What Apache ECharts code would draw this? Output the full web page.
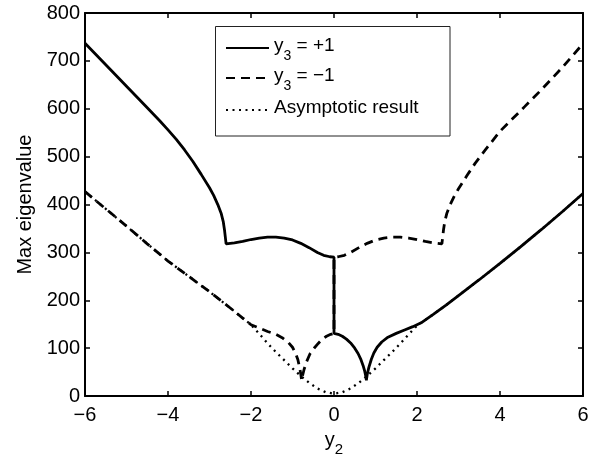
<!DOCTYPE html>
<html><head><meta charset="utf-8">
<script src="https://cdn.jsdelivr.net/npm/echarts@6/dist/echarts.min.js"></script>
<style>html,body{margin:0;padding:0;background:#fff}#c{width:595px;height:462px}</style>
</head><body><div id="c"></div>
<script>
// ---- data ----
const xTickValues = [-6, -4, -2, 0, 2, 4, 6];
const xTickLabels = ['\u22126', '\u22124', '\u22122', '0', '2', '4', '6'];
const seriesNames = ['y3 = +1', 'y3 = -1', 'Asymptotic result'];
const legendLabels = ['{n|y}{s|3}{n| = +1}', '{n|y}{s|3}{n| = \u22121}', '{n|Asymptotic result}'];

const solidPlus = [
  [-6, 737], [-5.5, 692], [-5, 647], [-4.5, 602], [-4.2, 575], [-4, 556],
  [-3.8, 536], [-3.6, 514], [-3.4, 490], [-3.2, 463], [-3.0, 435], [-2.9, 419],
  [-2.8, 400], [-2.72, 382], [-2.67, 365], [-2.64, 348], [-2.62, 333], [-2.6, 318],
  [-2.4, 320], [-2.2, 323], [-2.0, 327], [-1.8, 330], [-1.6, 332], [-1.4, 332],
  [-1.2, 330], [-1.0, 326], [-0.8, 319], [-0.6, 310], [-0.4, 300], [-0.25, 294],
  [-0.1, 291], [0, 290], [0, 131], [0.1, 129], [0.2, 125], [0.3, 119], [0.4, 111],
  [0.5, 100], [0.58, 89], [0.65, 76], [0.7, 64], [0.74, 52], [0.77, 40], [0.78, 33],
  [0.8, 45], [0.84, 60], [0.9, 77], [0.96, 90], [1.04, 102], [1.15, 113], [1.3, 123],
  [1.5, 131], [1.7, 138], [1.9, 145], [2.1, 153], [2.4, 171], [2.7, 190], [3, 210],
  [3.5, 243], [4, 277], [4.5, 312], [5, 348], [5.5, 385], [6, 423]
];
const dashedMinus = [
  [-6, 427], [-5.5, 391], [-5, 355], [-4.5, 318], [-4, 282], [-3.5, 250], [-3, 218],
  [-2.5, 184], [-2.2, 163], [-2.0, 149], [-1.8, 142], [-1.6, 135], [-1.4, 129],
  [-1.25, 122], [-1.1, 112], [-1.0, 102], [-0.93, 90], [-0.87, 76], [-0.83, 60],
  [-0.8, 46], [-0.78, 33], [-0.76, 42], [-0.72, 56], [-0.66, 72], [-0.58, 88],
  [-0.48, 100], [-0.38, 110], [-0.28, 119], [-0.18, 125], [-0.08, 129], [0, 131],
  [0, 290], [0.1, 291], [0.25, 294], [0.4, 300], [0.6, 310], [0.8, 319], [1.0, 326],
  [1.2, 330], [1.4, 332], [1.6, 332], [1.8, 330], [2.0, 327], [2.2, 323], [2.4, 320],
  [2.6, 318], [2.62, 333], [2.64, 348], [2.67, 365], [2.72, 382], [2.8, 400], [2.9, 418],
  [3.0, 433], [3.2, 460], [3.4, 486], [3.6, 509], [3.8, 531], [4.0, 553], [4.3, 579],
  [4.6, 605], [5.0, 640], [5.5, 686], [6, 736]
];
const asymptotic = [
  [-6, 427], [-5.5, 391], [-5, 355], [-4.5, 318], [-4, 282], [-3.5, 250], [-3, 218],
  [-2.5, 184], [-2.2, 163], [-2.0, 149], [-1.8, 130], [-1.6, 110], [-1.4, 92],
  [-1.2, 75], [-1.0, 58], [-0.8, 42], [-0.6, 28], [-0.4, 16], [-0.2, 8], [0, 5],
  [0.2, 8], [0.4, 16], [0.6, 28], [0.8, 42], [1.0, 58], [1.2, 75], [1.4, 92],
  [1.6, 110], [1.8, 129], [2.0, 147], [2.1, 153], [2.4, 171], [2.7, 190], [3, 210],
  [3.5, 243], [4, 277], [4.5, 312], [5, 348], [5.5, 385], [6, 423]
];

// ---- chart ----
const FONT = '"Liberation Sans", Arial, Helvetica, sans-serif';
const chart = echarts.init(document.getElementById('c'), null, { renderer: 'canvas' });

const axisLineStyle = { color: '#000', width: 2 };
const tickStyle = { show: true, inside: true, length: 5, lineStyle: { color: '#000', width: 1.5 } };
const richStyles = {
  n: { fontSize: 19, fontFamily: FONT, color: '#000', lineHeight: 24, verticalAlign: 'top' },
  s: { fontSize: 14, fontFamily: FONT, color: '#000', lineHeight: 14, padding: [13, 0, 0, 0], verticalAlign: 'top' }
};
const legendTops = [36, 66, 98];
const seriesStyles = [
  { width: 2.8, type: 'solid' },
  { width: 2.8, type: [9, 6] },
  { width: 2.3, type: [2, 4.5] }
];
const seriesData = [solidPlus, dashedMinus, asymptotic];

const option = {
  animation: false,
  backgroundColor: '#fff',
  grid: { left: 85, right: 12, top: 13, bottom: 63, containLabel: false },
  xAxis: [
    {
      type: 'value', min: -6, max: 6, interval: 2, position: 'bottom',
      axisLine: { show: true, onZero: false, lineStyle: axisLineStyle },
      axisTick: tickStyle, splitLine: { show: false },
      axisLabel: {
        color: '#000', fontSize: 20, fontFamily: FONT, margin: 9,
        formatter: v => xTickLabels[xTickValues.indexOf(v)]
      },
      name: '{n|y}{s|2}', nameLocation: 'middle', nameGap: 25,
      nameTextStyle: { rich: {
        n: { fontSize: 20, fontFamily: FONT, color: '#000', lineHeight: 24, verticalAlign: 'top' },
        s: { fontSize: 15, fontFamily: FONT, color: '#000', lineHeight: 15, padding: [12, 0, 0, 0], verticalAlign: 'top' }
      } }
    },
    {
      type: 'value', min: -6, max: 6, interval: 2, position: 'top',
      axisLine: { show: true, onZero: false, lineStyle: axisLineStyle },
      axisTick: tickStyle, axisLabel: { show: false }, splitLine: { show: false }
    }
  ],
  yAxis: [
    {
      type: 'value', min: 0, max: 800, interval: 100, position: 'left',
      axisLine: { show: true, onZero: false, lineStyle: axisLineStyle },
      axisTick: tickStyle, splitLine: { show: false },
      axisLabel: { color: '#000', fontSize: 20, fontFamily: FONT, margin: 5 },
      name: 'Max eigenvalue', nameLocation: 'middle', nameGap: 50,
      nameTextStyle: { color: '#000', fontSize: 20, fontFamily: FONT }
    },
    {
      type: 'value', min: 0, max: 800, interval: 100, position: 'right',
      axisLine: { show: true, onZero: false, lineStyle: axisLineStyle },
      axisTick: tickStyle, axisLabel: { show: false }, splitLine: { show: false }
    }
  ],
  graphic: [{
    type: 'rect', shape: { x: 215.5, y: 26.5, width: 234.5, height: 109.5 },
    style: { fill: '#fff', stroke: '#222', lineWidth: 1 }, z: 50
  }],
  legend: seriesNames.map((nm, i) => ({
    data: [nm], orient: 'vertical', left: 225, top: legendTops[i], padding: 0,
    itemWidth: 43, itemHeight: 14, itemGap: 0, z: 60,
    itemStyle: { opacity: 0 },
    formatter: () => legendLabels[i],
    textStyle: { rich: richStyles, color: '#000' }
  })),
  series: seriesNames.map((nm, i) => ({
    name: nm, type: 'line', xAxisIndex: 0, yAxisIndex: 0,
    data: seriesData[i], showSymbol: false, symbol: 'none', smooth: false,
    lineStyle: { color: '#000', width: seriesStyles[i].width, type: seriesStyles[i].type },
    itemStyle: { color: '#000' }, z: 3
  }))
};
chart.setOption(option);
</script>
</body></html>
